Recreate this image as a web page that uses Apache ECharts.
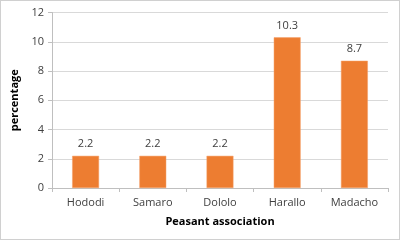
<!DOCTYPE html>
<html><head><meta charset="utf-8">
<script src="https://cdn.jsdelivr.net/npm/echarts@6/dist/echarts.min.js"></script>
<style>html,body{margin:0;padding:0;background:#fff}#c{width:400px;height:240px;box-sizing:border-box;border:1px solid #d0d0d0}</style>
</head><body><div id="c"></div>
<script>
const categories = ['Hododi','Samaro','Dololo','Harallo','Madacho'];
const values = [2.2, 2.2, 2.2, 10.3, 8.7];
const yTicks = {min:0, max:12, interval:2};
const chart = echarts.init(document.getElementById('c'), null, {renderer:'canvas'});
const font = 'Open Sans';
chart.setOption({
  animation:false,
  grid:{left:51, right:11, top:11.5, bottom:51},
  xAxis:{type:'category', data:categories,
    name:'Peasant association', nameLocation:'middle', nameGap:28,
    nameTextStyle:{fontFamily:font, fontWeight:'bold', fontSize:11, color:'#000'},
    axisLine:{lineStyle:{color:'#bfbfbf'}},
    axisTick:{show:true, length:4, lineStyle:{color:'#bfbfbf'}},
    axisLabel:{fontFamily:font, fontSize:11, color:'#404040', margin:9}},
  yAxis:{type:'value', min:yTicks.min, max:yTicks.max, interval:yTicks.interval,
    name:'percentage', nameLocation:'middle', nameGap:25,
    nameTextStyle:{fontFamily:font, fontWeight:'bold', fontSize:11, color:'#000'},
    axisLine:{show:true, lineStyle:{color:'#bfbfbf'}},
    axisTick:{show:true, length:4, lineStyle:{color:'#bfbfbf'}},
    axisLabel:{fontFamily:font, fontSize:11, color:'#404040', margin:8},
    splitLine:{lineStyle:{color:'#d9d9d9'}}},
  series:[{type:'bar', data:values, barWidth:'40%',
    itemStyle:{color:'#ED7D31', borderColor:'#F4A06A', borderWidth:0.5},
    label:{show:true, position:'top', distance:6, fontFamily:font, fontSize:11, color:'#404040'}}]
});
</script></body></html>
